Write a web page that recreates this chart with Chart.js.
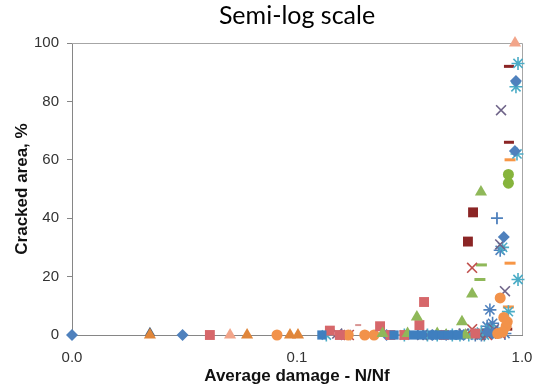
<!DOCTYPE html>
<html>
<head>
<meta charset="utf-8">
<script src="https://cdn.jsdelivr.net/npm/chart.js@4"></script>
<style>
  html, body { margin: 0; padding: 0; background: #fff; }
  #wrap { width: 542px; height: 387px; }
</style>
</head>
<body>
<div id="wrap"><canvas id="crackChart"></canvas></div>
<script>
// Average damage (N/Nf) vs cracked area (%), one pair of arrays per marker type
const xTicks = [0.01, 0.1, 1];
const yTicks = [0, 20, 40, 60, 80, 100];

const blueDiamondX = [0.01, 0.031, 0.94, 0.93, 0.83, 0.40, 0.46, 0.70, 0.25, 0.55, 0.74];
const blueDiamondY = [0, 0, 87, 63, 33.6, 0, 0, 1, 0, 0, 0.5];

const darkSquareX = [0.606, 0.575];
const darkSquareY = [42, 32];

const salmonSquareX = [0.041, 0.14, 0.234, 0.367, 0.35, 0.30, 0.45, 0.62, 0.155, 0.26];
const salmonSquareY = [0, 1.5, 3, 11.3, 3.4, 0, 0, 0.5, 0, 0];

const blueSquareX = [0.129, 0.27, 0.33, 0.43, 0.50, 0.36, 0.40, 0.47, 0.52];
const blueSquareY = [0, 0, 0, 0, 0, 0, 0, 0, 0];

const orangeTriangleX = [0.0222, 0.06, 0.0931, 0.101];
const orangeTriangleY = [0, 0, 0, 0];

const navyTriangleX = [0.0222];
const navyTriangleY = [0.8];

const salmonTriangleX = [0.0504, 0.931];
const salmonTriangleY = [0, 100];

const greenTriangleX = [0.657, 0.60, 0.341, 0.541, 0.24, 0.42, 0.56, 0.31, 0.46];
const greenTriangleY = [49, 14, 6.2, 4.5, 0.5, 0.5, 0, 0.5, 0];

const purpleXX = [0.807, 0.80, 0.84, 0.151, 0.55, 0.75, 0.36, 0.165, 0.38, 0.65, 0.70];
const purpleXY = [77, 31, 15, 0.5, 0.5, 2, 0, 0, 0, 0, 0.5];

const tealStarX = [0.96, 0.94, 0.95, 0.82, 0.96, 0.87, 0.30, 0.38, 0.66, 0.72, 0.49, 0.135, 0.42, 0.53, 0.58, 0.68, 0.76];
const tealStarY = [93, 85, 62, 30, 19, 8, 0, 0, 1, 2, 0, 0, 0, 0, 0, 0, 1];

const orangeCircleX = [0.0815, 0.169, 0.20, 0.80, 0.83, 0.85, 0.82, 0.86, 0.78, 0.22];
const orangeCircleY = [0, 0, 0, 12.7, 6, 3, 1, 4.5, 0.5, 0];

const greenCircleX = [0.87, 0.87];
const greenCircleY = [55, 52];

const bluePlusX = [0.774];
const bluePlusY = [40];

const orangeDashX = [0.885, 0.885, 0.87];
const orangeDashY = [60, 24.6, 9.6];

const darkDashX = [0.875, 0.875, 0.86];
const darkDashY = [92, 66, 2];

const greenDashX = [0.66, 0.65];
const greenDashY = [24, 19];

const pinkDashX = [0.187];
const pinkDashY = [3.4];

const redXX = [0.60, 0.60, 0.80, 0.17, 0.70];
const redXY = [23, 2, 0.5, 0, 0];

const blueStarX = [0.80, 0.72, 0.70, 0.78, 0.62, 0.66, 0.74, 0.84];
const blueStarY = [29, 8.6, 3, 1, 0, 0, 4, 0.5];

function pts(xs, ys) {
  return xs.map((x, i) => ({ x: x, y: ys[i] }));
}

function series(label, xs, ys, style, radius, color, stroke) {
  return {
    label: label,
    data: pts(xs, ys),
    pointStyle: style,
    pointRadius: radius,
    pointHoverRadius: radius,
    backgroundColor: color,
    borderColor: color,
    pointBorderWidth: stroke || 0,
    showLine: false,
    clip: false
  };
}

const framePlugin = {
  id: 'frame',
  beforeDatasetsDraw(chart) {
    const { ctx, chartArea: a } = chart;
    ctx.save();
    ctx.strokeStyle = '#a6a6a6';
    ctx.lineWidth = 1;
    ctx.beginPath();
    ctx.moveTo(a.left, a.top + 0.5);
    ctx.lineTo(a.right + 0.5, a.top + 0.5);
    ctx.lineTo(a.right + 0.5, a.bottom);
    ctx.stroke();
    ctx.restore();
  },
  afterDraw(chart) {
    const ctx = chart.ctx;
    ctx.save();
    ctx.fillStyle = '#000';
    ctx.font = '25px Lato';
    ctx.textAlign = 'center';
    ctx.textBaseline = 'middle';
    ctx.fillText('Semi-log scale', 297, 16);
    ctx.restore();
  }
};

const ctx = document.getElementById('crackChart').getContext('2d');
new Chart(ctx, {
  type: 'scatter',
  data: {
    datasets: [
      series('Blue square', blueSquareX, blueSquareY, 'rect', 6.5, '#3f7fbf'),
      series('Orange triangle', orangeTriangleX, orangeTriangleY, 'triangle', 7, '#e0863a'),
      series('Navy triangle', navyTriangleX, navyTriangleY, 'triangle', 6, '#3d5a78'),
      series('Salmon triangle', salmonTriangleX, salmonTriangleY, 'triangle', 7, '#f2a58a'),
      series('Green triangle', greenTriangleX, greenTriangleY, 'triangle', 7, '#8fb859'),
      series('Salmon square', salmonSquareX, salmonSquareY, 'rect', 7, '#d6676a'),
      series('Dark square', darkSquareX, darkSquareY, 'rect', 7, '#8b2525'),
      series('Orange circle', orangeCircleX, orangeCircleY, 'circle', 5.5, '#f2924a'),
      series('Green circle', greenCircleX, greenCircleY, 'circle', 5.5, '#86b43c'),
      series('Blue diamond', blueDiamondX, blueDiamondY, 'rectRot', 6, '#4f81bd'),
      series('Purple X', purpleXX, purpleXY, 'crossRot', 7, '#6f6489', 1.6),
      series('Red X', redXX, redXY, 'crossRot', 7, '#c0504d', 1.6),
      series('Teal star', tealStarX, tealStarY, 'star', 6.5, '#4bacc6', 1.6),
      series('Blue star', blueStarX, blueStarY, 'star', 6.5, '#4f81bd', 1.6),
      series('Blue plus', bluePlusX, bluePlusY, 'cross', 6, '#4f81bd', 1.8),
      series('Orange dash', orangeDashX, orangeDashY, 'line', 5.5, '#f79646', 3),
      series('Dark dash', darkDashX, darkDashY, 'line', 5, '#8b2525', 3),
      series('Green dash', greenDashX, greenDashY, 'line', 5.5, '#8fb859', 3),
      series('Pink dash', pinkDashX, pinkDashY, 'line', 3, '#d99694', 2)
    ]
  },
  options: {
    responsive: true,
    maintainAspectRatio: false,
    animation: false,
    layout: { padding: { top: 43, right: 20, bottom: 0, left: 0 } },
    plugins: {
      legend: { display: false },
      tooltip: { enabled: false }
    },
    scales: {
      x: {
        type: 'logarithmic',
        min: 0.01,
        max: 1,
        afterBuildTicks: s => { s.ticks = xTicks.map(v => ({ value: v })); },
        afterFit: s => { s.height = 52; },
        grid: { display: false },
        border: { display: true, color: '#868686', width: 1 },
        ticks: {
          padding: 6,
          color: '#333',
          font: { family: 'Liberation Sans', size: 15 },
          maxRotation: 0,
          callback: v => Number(v).toFixed(1)
        },
        title: {
          display: true,
          text: 'Average damage - N/Nf',
          color: '#111',
          font: { family: 'Liberation Sans', size: 17, weight: 'bold' },
          padding: { top: 0, bottom: 0 }
        }
      },
      y: {
        min: 0,
        max: 100,
        afterBuildTicks: s => { s.ticks = yTicks.map(v => ({ value: v })); },
        afterFit: s => { s.width = 72; },
        grid: { display: true, drawOnChartArea: false, drawTicks: true, tickLength: 5, color: '#868686' },
        border: { display: true, color: '#868686', width: 1 },
        ticks: {
          padding: 8,
          color: '#333',
          font: { family: 'Liberation Sans', size: 15 }
        },
        title: {
          display: true,
          text: 'Cracked area, %',
          color: '#111',
          font: { family: 'Liberation Sans', size: 17, weight: 'bold' },
          padding: { top: 12, bottom: 0 }
        }
      }
    }
  },
  plugins: [framePlugin]
});
</script>
</body>
</html>
